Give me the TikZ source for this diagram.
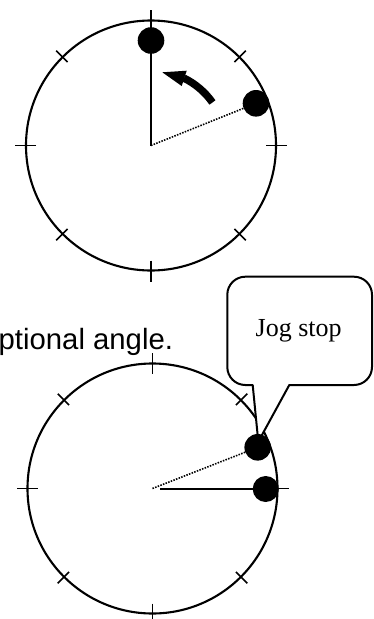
\documentclass[tikz,border=0pt]{standalone}
\usepackage{fontspec}
\usetikzlibrary{calc}
\newfontfamily\arialf{Liberation Sans}
\newfontfamily\timesf{Liberation Serif}
\begin{document}
\begin{tikzpicture}[x=1pt,y=-1pt,
  dial/.style={line width=2.1pt},
  tick/.style={line width=1.7pt},
  hand/.style={line width=2pt},
  dotline/.style={line width=1.6pt,dash pattern=on 1.5pt off 1.3pt},
  knob/.style={fill=black},
  bubble/.style={line width=2pt,fill=white,line join=round}]
\fill[white] (0,0) rectangle (374,619);
\useasboundingbox (0,0) rectangle (374,619);
\clip (0,0) rectangle (374,619);
% ---------- top dial ----------
\coordinate (c1) at (151,145.5);
\coordinate (d1) at (151,40.5);
\coordinate (d2) at (256,103.3);
\draw[dial] (c1) circle (125);
\foreach \a in {0,90,180,270}
  \draw[tick] ($(c1)+(\a:115)$) -- ($(c1)+(\a:136)$);
\foreach \a in {45,135,225,315}
  \draw[tick] ($(c1)+(\a:118)$) -- ($(c1)+(\a:134)$);
\draw[hand] (c1) -- (d1);
\draw[dotline] (c1) -- (d2);
\fill[knob] (d1) circle (13.3);
\fill[knob] (d2) circle (13.3);
% curved arrow
\draw[line width=7.5pt] ($(c1)+(-35:75)$) arc (-35:-64:75) coordinate (ah);
\coordinate (at) at (162.3,72.3);
\fill (at) -- (186.7,70.7) -- (181.7,86) -- cycle;
% ---------- text ----------
\node[anchor=base west,inner sep=0pt,font=\arialf\fontsize{29.3}{31}\selectfont] (lbl) at (-1.5,349) {ptional angle.};
% ---------- bottom dial ----------
\coordinate (c2) at (152.5,488.5);
\coordinate (c2b) at (160,489);
\coordinate (d3) at (257.7,447.3);
\coordinate (d4) at (265.7,489);
\draw[dial] (c2) circle (125);
\foreach \a in {0,90,180,270}
  \draw[tick] ($(c2)+(\a:115)$) -- ($(c2)+(\a:136)$);
\foreach \a in {45,135,225,315}
  \draw[tick] ($(c2)+(\a:118)$) -- ($(c2)+(\a:134)$);
\draw[dotline] (c2) -- (d3);
\draw[hand] (c2b) -- (d4);
\fill[knob] (d4) circle (13);
% callout
\coordinate (tip) at (258.3,441.7);
\draw[bubble] (289.3,385) -- (354,385) arc (90:0:18) -- (372,294.7) arc (0:-90:18)
  -- (245.3,276.7) arc (-90:-180:18) -- (227.3,367) arc (180:90:18)
  -- (252.7,385) -- (tip) -- cycle;
\fill[knob] (d3) circle (13.3);
\node[anchor=base,inner sep=0pt,font=\timesf\fontsize{26}{28}\selectfont] (jog) at (298.7,336) {Jog stop};
\end{tikzpicture}
\end{document}
